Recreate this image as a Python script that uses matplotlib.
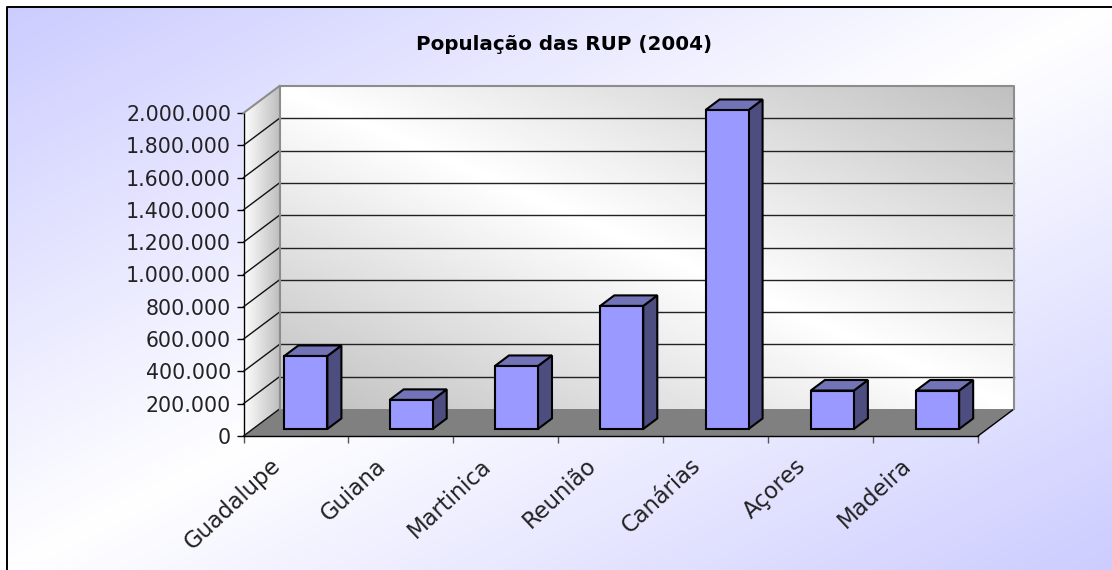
import numpy as np
import matplotlib
matplotlib.use('Agg')
import matplotlib.pyplot as plt
from matplotlib.patches import Polygon
from matplotlib.transforms import ScaledTranslation

categories = ['Guadalupe', 'Guiana', 'Martinica', 'Reunião', 'Canárias', 'Açores', 'Madeira']
populacao = [452000, 180000, 390000, 762000, 1975000, 238000, 238000]
y_ticks = [0, 200000, 400000, 600000, 800000, 1000000, 1200000, 1400000, 1600000, 1800000, 2000000]
y_labels = ['0', '200.000', '400.000', '600.000', '800.000', '1.000.000', '1.200.000',
            '1.400.000', '1.600.000', '1.800.000', '2.000.000']
titulo = 'População das RUP (2004)'

W, H = 1112, 570
# front plane of the 3d box in pixels
x0, x1, y_bot, y_top = 243.5, 978.0, 436.0, 113.0
dx_u = 36.0 / ((x1 - x0) / 7)        # depth offset in category units
dy_u = 27.0 / ((y_bot - y_top) / 2000000)  # depth offset in value units
bar_w = 0.41


def depth(x, y, d):
    return (x + d * dx_u, y + d * dy_u)


fig = plt.figure(figsize=(W / 100, H / 100), dpi=100)

# page background, white outside the frame
bg = fig.add_axes([0, 0, 1, 1], zorder=0)
bg.set_axis_off()
yy, xx = np.mgrid[0:1:300j, 0:1:600j]
t = np.abs(xx + yy - 1)
cols = np.zeros(t.shape + (3,))
cols[..., 0] = 1 - t * 0.2
cols[..., 1] = 1 - t * 0.2
cols[..., 2] = 1
bg.imshow(cols, extent=[7, W, H, 7], aspect='auto', interpolation='bilinear')
bg.plot([7, 7, W], [H, 7, 7], color='black', lw=1.4)
bg.set_xlim(0, W)
bg.set_ylim(H, 0)

ax = fig.add_axes([x0 / W, 1 - y_bot / H, (x1 - x0) / W, (y_bot - y_top) / H], zorder=1)
ax.patch.set_alpha(0)
for s in ['top', 'right']:
    ax.spines[s].set_visible(False)
ax.spines['left'].set_linewidth(1)
ax.spines['bottom'].set_linewidth(1)

# back wall, grey at top right and bottom left
yy, xx = np.mgrid[0:1:200j, 0:1:400j]
g = 1 - np.abs(xx + yy - 1) * 0.25
bx0, by0 = depth(0, 0, 1)
bx1, by1 = depth(7, 2000000, 1)
ax.imshow(g, extent=[bx0, bx1, by0, by1], origin='lower', aspect='auto', cmap='gray',
          vmin=0, vmax=1, clip_on=False, zorder=1)

# side wall gradient, skewed mesh
frac = np.linspace(0, 1, 40)
sx = np.vstack([frac * dx_u, frac * dx_u])
sy = np.vstack([frac * dy_u, 2000000 + frac * dy_u])
sc = np.vstack([1 - frac * 0.25, 1 - frac * 0.25])
ax.pcolormesh(sx, sy, sc, cmap='gray', vmin=0, vmax=1, shading='gouraud', clip_on=False, zorder=1)

ax.set_xlim(0, 7)
ax.set_ylim(0, 2000000)

# floor
ax.add_patch(Polygon([(0, 0), depth(0, 0, 1), depth(7, 0, 1), (7, 0)], facecolor='#808080',
                     edgecolor='none', clip_on=False, zorder=2))
ax.plot(*zip((7, 0), depth(7, 0, 1)), color='black', lw=1, clip_on=False, zorder=3)

# grid lines on both walls
for v in y_ticks:
    p = depth(0, v, 1)
    q = depth(7, v, 1)
    if v < 2000000:
        ax.plot([0, p[0]], [v, p[1]], color='#111111', lw=1, clip_on=False, zorder=3)
    if 0 < v < 2000000:
        ax.plot([p[0], q[0]], [p[1], q[1]], color='#222222', lw=1, clip_on=False, zorder=3)
# wall edges
a, b, c = depth(0, 0, 1), depth(0, 2000000, 1), depth(7, 2000000, 1)
d = depth(7, 0, 1)
ax.plot([a[0], b[0], c[0], d[0]], [a[1], b[1], c[1], d[1]], color='#8c8c8c', lw=1.5, clip_on=False, zorder=3)
ax.plot([0, b[0]], [2000000, b[1]], color='#8c8c8c', lw=1.5, clip_on=False, zorder=3)

# bars
for i, v in enumerate(populacao):
    d0, d1 = 0.26, 0.65
    xc = 0.505 + i * 1.0035
    xl = xc - bar_w / 2
    xr = xc + bar_w / 2
    fl = depth(xl, 0, d0)
    fr = depth(xr, 0, d0)
    tl = depth(xl, v, d0)
    tr = depth(xr, v, d0)
    bl = depth(xl, v, d1)
    br = depth(xr, v, d1)
    bb = depth(xr, 0, d1)
    ax.add_patch(Polygon([fr, bb, br, tr], facecolor='#4d4d80', edgecolor='black', lw=1.5, zorder=5, clip_on=False))
    ax.add_patch(Polygon([tl, bl, br, tr], facecolor='#7373b8', edgecolor='black', lw=1.5, zorder=5, clip_on=False))
    ax.add_patch(Polygon([fl, fr, tr, tl], facecolor='#9999ff', edgecolor='black', lw=1.5, zorder=6, clip_on=False))

ax.set_yticks(y_ticks)
ax.set_yticklabels(y_labels, fontsize=14.8, color='#222222')
ax.tick_params(axis='y', length=5, width=1, pad=4)
ax.set_xticks(range(8))
ax.set_xticklabels([])
ax.tick_params(axis='x', length=5, width=1, color='#555555')
ax.set_xticks([i + 0.5 for i in range(7)], minor=True)
ax.set_xticklabels(categories, minor=True, rotation=43, ha='right', rotation_mode='anchor',
                   fontsize=16.3, color='#222222')
ax.tick_params(axis='x', which='minor', length=0, pad=13)
# shift the slanted labels to the left, they end before the slot centre
shift = ScaledTranslation(-26 / 100, 0, fig.dpi_scale_trans)
for lab in ax.get_xticklabels(minor=True):
    lab.set_transform(lab.get_transform() + shift)

fig.text(564 / W, 1 - 45 / H, titulo, ha='center', va='center', fontsize=14.3, fontweight='bold', color='black')

fig.savefig('out.png', dpi=100)
